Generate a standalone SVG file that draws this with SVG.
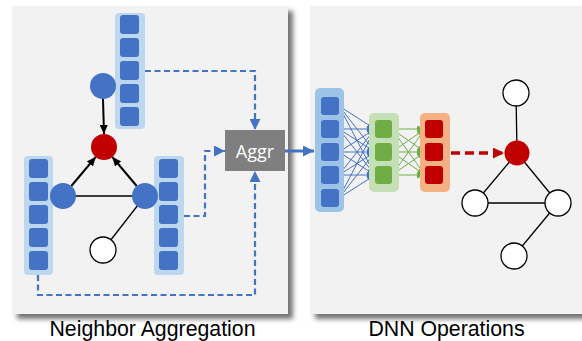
<svg xmlns="http://www.w3.org/2000/svg" width="582" height="341" viewBox="0 0 582 341">
<style>
.panel{fill:#f2f2f2}
.vbg{fill:#bdd7ee}
.vbg2{fill:#9dc3e6}
.sq{fill:#4472c4}
.gsq{fill:#70ad47}
.rsq{fill:#c00000}
.bn{fill:#4472c4}
.rn{fill:#c00000}
.wn{fill:#ffffff;stroke:#000;stroke-width:1.3}
.edge{stroke:#000;stroke-width:1.3;fill:none}
.arr{stroke:#000;stroke-width:2;fill:none;marker-end:url(#ak)}
.dash{stroke:#4472c4;stroke-width:2.2;fill:none;stroke-dasharray:6 3.5;marker-end:url(#ab)}
.fanb{stroke:#4472c4;stroke-width:1;fill:none;marker-end:url(#afb)}
.fang{stroke:#70ad47;stroke-width:1;fill:none;marker-end:url(#afg)}
.lbl{font-family:"Liberation Sans",Arial,sans-serif;font-size:21.3px;fill:#000;text-anchor:middle}
</style>
<defs>
<filter id="sh" x="-10%" y="-10%" width="130%" height="130%">
<feDropShadow dx="5" dy="5" stdDeviation="2.5" flood-color="#000" flood-opacity="0.55"/>
</filter>
<marker id="ak" markerUnits="userSpaceOnUse" markerWidth="9" markerHeight="8" refX="9" refY="4" orient="auto"><path d="M0,0 L9,4 L0,8 z" fill="#000"/></marker>
<marker id="ab" markerUnits="userSpaceOnUse" markerWidth="11" markerHeight="11" refX="11" refY="5.5" orient="auto"><path d="M0,0 L11,5.5 L0,11 z" fill="#4472c4"/></marker>
<marker id="afb" markerUnits="userSpaceOnUse" markerWidth="8" markerHeight="7" refX="8" refY="3.5" orient="auto"><path d="M0,0 L8,3.5 L0,7 z" fill="#4472c4"/></marker>
<marker id="afg" markerUnits="userSpaceOnUse" markerWidth="8" markerHeight="7" refX="8" refY="3.5" orient="auto"><path d="M0,0 L8,3.5 L0,7 z" fill="#70ad47"/></marker>
<marker id="ar" markerUnits="userSpaceOnUse" markerWidth="11" markerHeight="11" refX="11" refY="5.5" orient="auto"><path d="M0,0 L11,5.5 L0,11 z" fill="#c00000"/></marker>
</defs>
<rect width="582" height="341" fill="#fff"/>
<g id="panel-left"><rect class="panel" x="12" y="6" width="276" height="308" filter="url(#sh)"/></g>
<g id="panel-right"><rect class="panel" x="310" y="6" width="280" height="308" filter="url(#sh)"/></g>

<g id="connectors">
<line class="edge" x1="63" y1="196" x2="145" y2="196"/>
<line class="edge" x1="145" y1="196" x2="103" y2="250"/>
<line class="arr" x1="103" y1="99" x2="104" y2="134"/>
<line class="arr" x1="71.3" y1="186" x2="95.7" y2="157"/>
<line class="arr" x1="136.7" y1="186" x2="112.3" y2="157"/>
<polyline class="dash" points="145,71 255,71 255,130"/>
<polyline class="dash" points="184,216 205,216 205,151 225,151"/>
<polyline class="dash" points="38,275 38,295 255,295 255,171"/>
<line x1="285" y1="151" x2="314" y2="151" stroke="#4472c4" stroke-width="3" marker-end="url(#ab)"/>
<g id="fan-blue">
<line class="fanb" x1="339" y1="106" x2="375" y2="129"/><line class="fanb" x1="339" y1="106" x2="375" y2="152"/><line class="fanb" x1="339" y1="106" x2="375" y2="175"/>
<line class="fanb" x1="339" y1="129" x2="375" y2="129"/><line class="fanb" x1="339" y1="129" x2="375" y2="152"/><line class="fanb" x1="339" y1="129" x2="375" y2="175"/>
<line class="fanb" x1="339" y1="152" x2="375" y2="129"/><line class="fanb" x1="339" y1="152" x2="375" y2="152"/><line class="fanb" x1="339" y1="152" x2="375" y2="175"/>
<line class="fanb" x1="339" y1="175" x2="375" y2="129"/><line class="fanb" x1="339" y1="175" x2="375" y2="152"/><line class="fanb" x1="339" y1="175" x2="375" y2="175"/>
<line class="fanb" x1="339" y1="198" x2="375" y2="129"/><line class="fanb" x1="339" y1="198" x2="375" y2="152"/><line class="fanb" x1="339" y1="198" x2="375" y2="175"/>
</g>
<g id="fan-green">
<line class="fang" x1="392" y1="129" x2="425" y2="129"/><line class="fang" x1="392" y1="129" x2="425" y2="152"/><line class="fang" x1="392" y1="129" x2="425" y2="175"/>
<line class="fang" x1="392" y1="152" x2="425" y2="129"/><line class="fang" x1="392" y1="152" x2="425" y2="152"/><line class="fang" x1="392" y1="152" x2="425" y2="175"/>
<line class="fang" x1="392" y1="175" x2="425" y2="129"/><line class="fang" x1="392" y1="175" x2="425" y2="152"/><line class="fang" x1="392" y1="175" x2="425" y2="175"/>
</g>
<line x1="451" y1="153" x2="504" y2="153" stroke="#c00000" stroke-width="3.5" stroke-dasharray="9 5" marker-end="url(#ar)"/>
<line class="edge" x1="516" y1="93" x2="517" y2="153"/>
<line class="edge" x1="517" y1="153" x2="475" y2="203"/>
<line class="edge" x1="517" y1="153" x2="558" y2="203"/>
<line class="edge" x1="475" y1="203" x2="558" y2="203"/>
<line class="edge" x1="558" y1="203" x2="514" y2="256"/>
</g>

<g id="vec-top">
<rect class="vbg" x="115" y="13" width="30" height="116" rx="4"/>
<rect class="sq" x="120" y="15" width="19" height="19" rx="3"/>
<rect class="sq" x="120" y="38" width="19" height="19" rx="3"/>
<rect class="sq" x="120" y="61" width="19" height="19" rx="3"/>
<rect class="sq" x="120" y="84" width="19" height="19" rx="3"/>
<rect class="sq" x="120" y="107" width="19" height="19" rx="3"/>
</g>
<g id="vec-left">
<rect class="vbg" x="24" y="156" width="29" height="119" rx="4"/>
<rect class="sq" x="29" y="159" width="19" height="19" rx="3"/>
<rect class="sq" x="29" y="182" width="19" height="19" rx="3"/>
<rect class="sq" x="29" y="205" width="19" height="19" rx="3"/>
<rect class="sq" x="29" y="228" width="19" height="19" rx="3"/>
<rect class="sq" x="29" y="251" width="19" height="19" rx="3"/>
</g>
<g id="vec-right">
<rect class="vbg" x="154" y="156" width="30" height="119" rx="4"/>
<rect class="sq" x="159" y="159" width="19" height="19" rx="3"/>
<rect class="sq" x="159" y="182" width="19" height="19" rx="3"/>
<rect class="sq" x="159" y="205" width="19" height="19" rx="3"/>
<rect class="sq" x="159" y="228" width="19" height="19" rx="3"/>
<rect class="sq" x="159" y="251" width="19" height="19" rx="3"/>
</g>
<g id="node-top"><circle class="bn" cx="103" cy="86" r="13"/></g>
<g id="node-target"><circle class="rn" cx="104" cy="147" r="13"/></g>
<g id="node-left"><circle class="bn" cx="63" cy="196" r="13"/></g>
<g id="node-right"><circle class="bn" cx="145" cy="196" r="13"/></g>
<g id="node-white"><circle class="wn" cx="103" cy="250" r="13"/></g>
<g id="aggr">
<rect x="225" y="130" width="60" height="41" fill="#7f7f7f"/>
<text x="255" y="157.5" font-family="'Open Sans','Liberation Sans',sans-serif" font-size="18" fill="#fff" text-anchor="middle">Aggr</text>
</g>

<g id="dnn-in">
<rect class="vbg2" x="315" y="88" width="29" height="124" rx="5"/>
<rect class="sq" x="321" y="97" width="18" height="18" rx="3"/>
<rect class="sq" x="321" y="120" width="18" height="18" rx="3"/>
<rect class="sq" x="321" y="143" width="18" height="18" rx="3"/>
<rect class="sq" x="321" y="166" width="18" height="18" rx="3"/>
<rect class="sq" x="321" y="189" width="18" height="18" rx="3"/>
</g>
<g id="dnn-hidden">
<rect x="369" y="113" width="30" height="79" rx="5" fill="#c5e0b4"/>
<rect class="gsq" x="375" y="120" width="17" height="18" rx="3"/>
<rect class="gsq" x="375" y="143" width="17" height="18" rx="3"/>
<rect class="gsq" x="375" y="166" width="17" height="18" rx="3"/>
</g>
<g id="dnn-out">
<rect x="420" y="113" width="30" height="79" rx="5" fill="#f4b183"/>
<rect class="rsq" x="425" y="120" width="18" height="18" rx="3"/>
<rect class="rsq" x="425" y="143" width="18" height="18" rx="3"/>
<rect class="rsq" x="425" y="166" width="18" height="18" rx="3"/>
</g>
<g id="g2-target"><circle class="rn" cx="517" cy="153" r="12.5"/></g>
<g id="g2-top"><circle class="wn" cx="516" cy="93" r="13"/></g>
<g id="g2-left"><circle class="wn" cx="475" cy="203" r="13"/></g>
<g id="g2-right"><circle class="wn" cx="558" cy="203" r="13"/></g>
<g id="g2-bottom"><circle class="wn" cx="514" cy="256" r="13"/></g>

<text class="lbl" x="152.5" y="336">Neighbor Aggregation</text>
<text class="lbl" x="446.5" y="336">DNN Operations</text>
</svg>
